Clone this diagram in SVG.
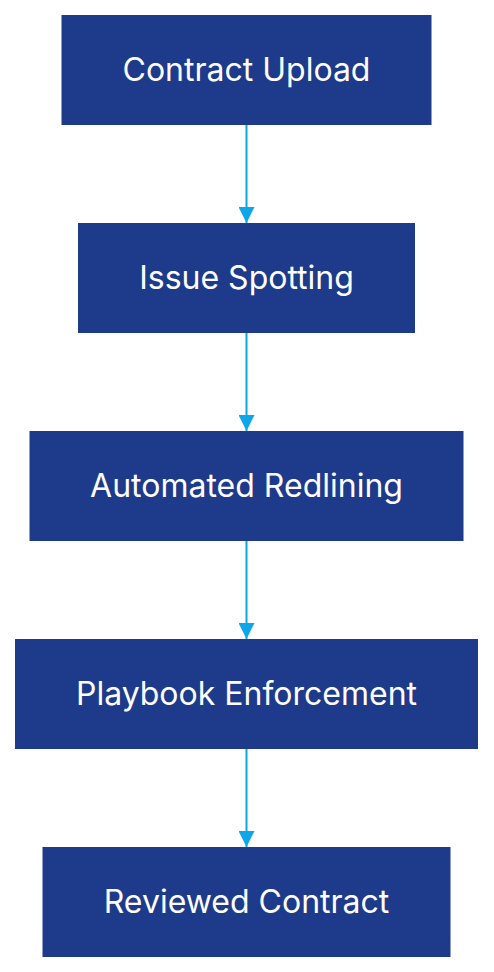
<svg xmlns="http://www.w3.org/2000/svg" width="494" height="972" viewBox="0 0 494 972">
<style>
.node rect{fill:#1e3a8a;}
.node text{fill:#ffffff;font-family:Inter,"Noto Sans",sans-serif;font-size:32px;text-anchor:middle;dominant-baseline:central;}
.edge{stroke:#0ea5e9;stroke-width:2;fill:none;marker-end:url(#arrow);}
</style>
<defs>
<marker id="arrow" viewBox="0 0 16 16" refX="16" refY="8" markerWidth="16" markerHeight="16" markerUnits="userSpaceOnUse" orient="auto">
<path d="M0,0 L16,8 L0,16 z" fill="#0ea5e9"/>
</marker>
</defs>
<rect width="494" height="972" fill="#ffffff"/>
<g id="connectors">
<path class="edge" d="M246.5,125 L246.5,223"/>
<path class="edge" d="M246.5,333 L246.5,431"/>
<path class="edge" d="M246.5,541 L246.5,639"/>
<path class="edge" d="M246.5,749 L246.5,847"/>
</g>
<g id="contract-upload" class="node"><rect x="61.5" y="15" width="370" height="110"/><text x="246.5" y="69">Contract Upload</text></g>
<g id="issue-spotting" class="node"><rect x="78" y="223" width="337" height="110"/><text x="246.5" y="277">Issue Spotting</text></g>
<g id="automated-redlining" class="node"><rect x="29.5" y="431" width="434" height="110"/><text x="246.5" y="485">Automated Redlining</text></g>
<g id="playbook-enforcement" class="node"><rect x="15" y="639" width="463" height="110"/><text x="246.5" y="693">Playbook Enforcement</text></g>
<g id="reviewed-contract" class="node"><rect x="42.5" y="847" width="408" height="110"/><text x="246.5" y="901">Reviewed Contract</text></g>
</svg>
